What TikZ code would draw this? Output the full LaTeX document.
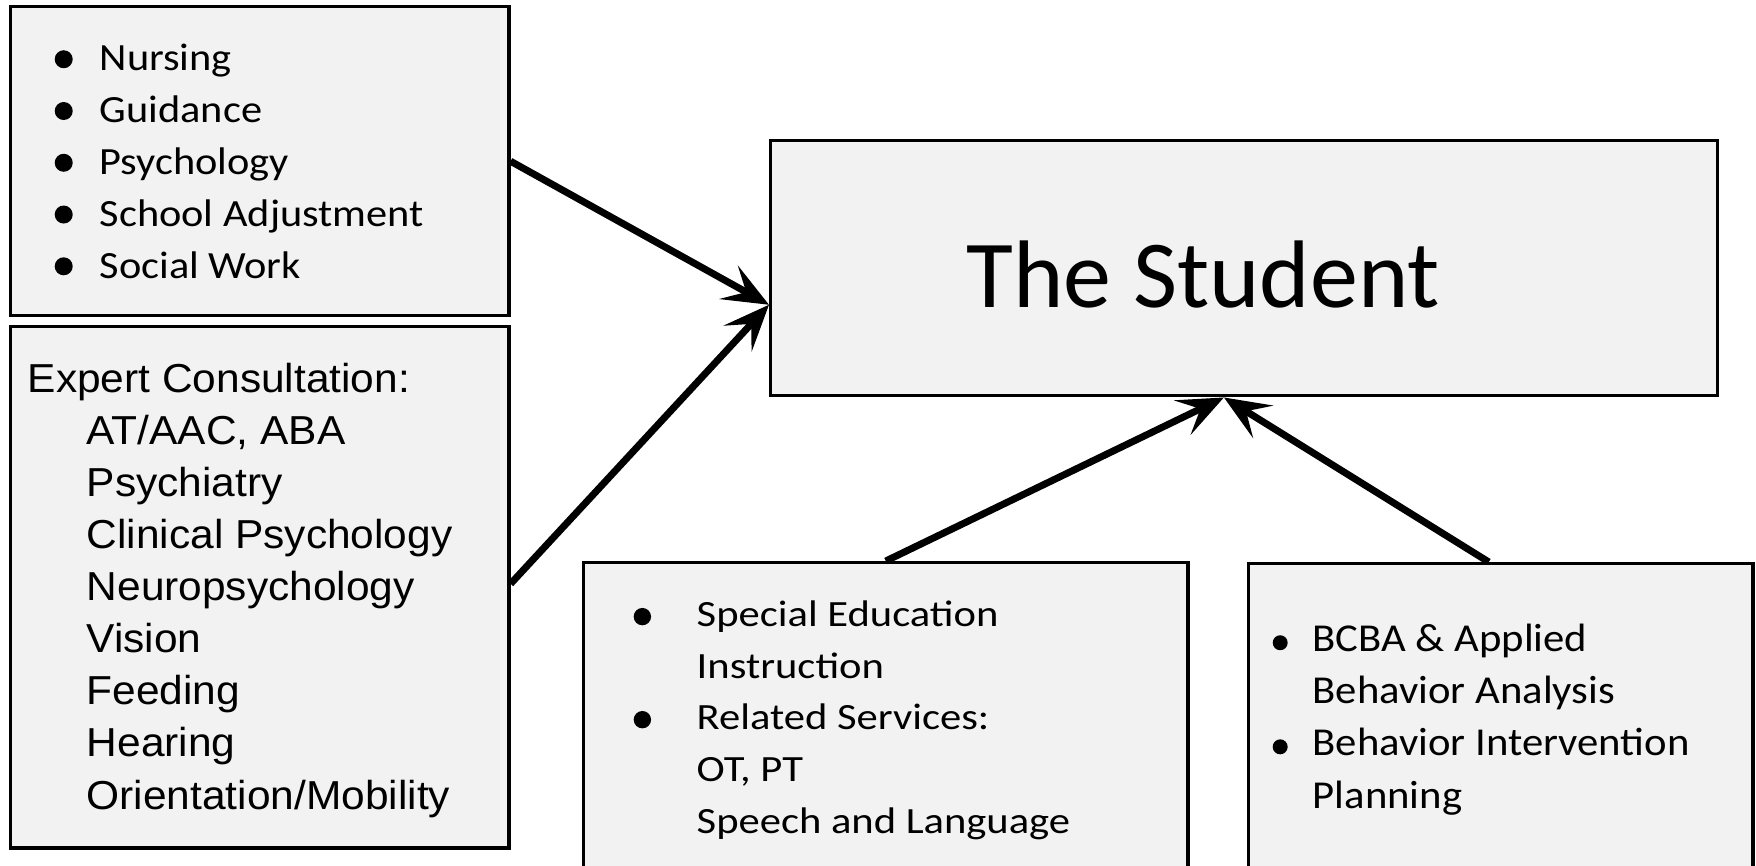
\documentclass[tikz,border=0pt]{standalone}
\usepackage{fontspec}
\setmainfont{Carlito}
\newfontfamily\arialfont{Liberation Sans}
\usetikzlibrary{arrows.meta, positioning, calc}
\definecolor{panelgray}{HTML}{F2F2F2}

% bullet: width of the bullet column, radius, height of the centre
\newcommand{\listdot}[3]{\makebox[#1][l]{\tikz[baseline=0pt]\fill (#2,#3) circle[radius=#2];}}

\begin{document}
\begin{tikzpicture}[
    x=0.01cm, y=-0.01cm,
    panel/.style={rectangle, draw, line width=0.033cm, fill=panelgray,
                  inner sep=0pt, anchor=north west},
    listtext/.style={anchor=base west, align=left, inner sep=0pt},
    feed/.style={-{Stealth[length=0.46cm, width=0.38cm, inset=0.2cm]},
                 line width=0.07cm}
  ]
    \useasboundingbox (0,0) rectangle (1756,866);
    \clip (0,0) rectangle (1756,866);

    % Boxes
    \node[panel, minimum width=4.98cm, minimum height=3.09cm] (roles)    at (9,5)     {};
    \node[panel, minimum width=4.98cm, minimum height=5.21cm] (consult)  at (9,325)   {};
    \node[panel, minimum width=9.46cm, minimum height=2.55cm] (student)  at (769,139) {};
    \node[panel, minimum width=6.04cm, minimum height=3.40cm] (services) at (582,561) {};
    \node[panel, minimum width=5.04cm, minimum height=3.40cm] (behavior) at (1247,562) {};

    % Box texts (anchored on the last line)
    \node[anchor=base west, inner sep=0pt, font=\fontsize{27.3pt}{32pt}\selectfont]
        (studentname) at (966,307) {The Student};

    \node[listtext, font=\fontsize{10.95pt}{14.72pt}\selectfont\addfontfeature{FakeStretch=1.1}]
        (rolestext) at (54,278) {%
        \listdot{0.45cm}{2.56pt}{3.33pt}Nursing\\
        \listdot{0.45cm}{2.56pt}{3.33pt}Guidance\\
        \listdot{0.45cm}{2.56pt}{3.33pt}Psychology\\
        \listdot{0.45cm}{2.56pt}{3.33pt}School Adjustment\\
        \listdot{0.45cm}{2.56pt}{3.33pt}Social Work};

    \node[listtext, font=\arialfont\fontsize{11.5pt}{14.8pt}\selectfont\addfontfeature{FakeStretch=1.05}]
        (consulttext) at (27,809) {%
        Expert Consultation:\\
        \hspace*{0.59cm}AT/AAC, ABA\\
        \hspace*{0.59cm}Psychiatry\\
        \hspace*{0.59cm}Clinical Psychology\\
        \hspace*{0.59cm}Neuropsychology\\
        \hspace*{0.59cm}Vision\\
        \hspace*{0.59cm}Feeding\\
        \hspace*{0.59cm}Hearing\\
        \hspace*{0.59cm}Orientation/Mobility};

    \node[listtext, font=\fontsize{10.53pt}{14.65pt}\selectfont\addfontfeature{FakeStretch=1.15}]
        (servicestext) at (633,833) {%
        \listdot{0.63cm}{2.47pt}{2.93pt}Special Education\\
        \hspace*{0.63cm}Instruction\\
        \listdot{0.63cm}{2.47pt}{2.93pt}Related Services:\\
        \hspace*{0.63cm}OT, PT\\
        \hspace*{0.63cm}Speech and Language};

    \node[listtext, font=\fontsize{11.24pt}{14.8pt}\selectfont\addfontfeature{FakeStretch=1.08}]
        (behaviortext) at (1272,808) {%
        \listdot{0.40cm}{2.13pt}{2.6pt}BCBA \& Applied\\
        \hspace*{0.40cm}Behavior Analysis\\
        \listdot{0.40cm}{2.13pt}{2.6pt}Behavior Intervention\\
        \hspace*{0.40cm}Planning};

    % Arrows into the student
    \draw[feed] (roles.east) -- ([yshift=-0.365cm]student.west);
    \draw[feed] ([yshift=0.035cm]consult.east) -- ([yshift=-0.365cm]student.west);
    \draw[feed] (services.north) -- ([xshift=-0.2cm]student.south);
    \draw[feed] ([xshift=-0.12cm]behavior.north) -- ([xshift=-0.2cm]student.south);
\end{tikzpicture}
\end{document}
